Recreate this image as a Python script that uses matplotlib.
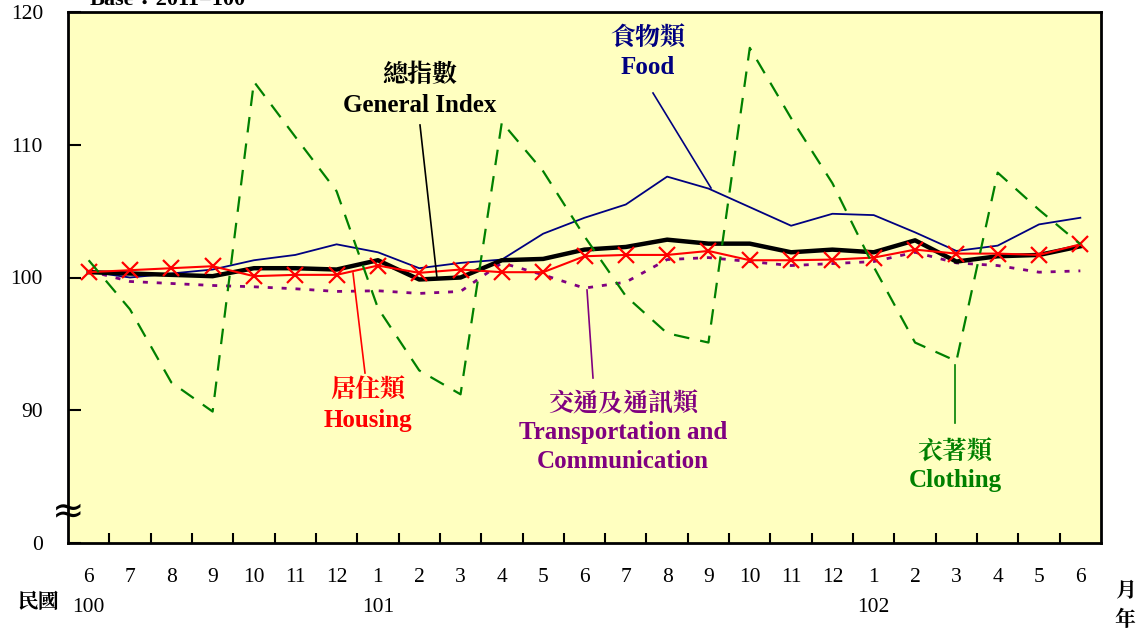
import matplotlib
matplotlib.use("Agg")
import matplotlib.pyplot as plt
import matplotlib.transforms as mtransforms

months = ["6", "7", "8", "9", "10", "11", "12", "1", "2", "3", "4", "5",
          "6", "7", "8", "9", "10", "11", "12", "1", "2", "3", "4", "5", "6"]
years = {0: "100", 7: "101", 19: "102"}

general = [100.4, 100.3, 100.2, 100.1, 100.7, 100.7, 100.6, 101.3, 99.85, 100.0,
           101.3, 101.4, 102.1, 102.3, 102.85, 102.55, 102.55, 101.9, 102.1, 101.9,
           102.8, 101.2, 101.6, 101.7, 102.35]
food = [100.45, 100.0, 100.3, 100.6, 101.3, 101.7, 102.5, 101.9, 100.7, 101.1,
        101.35, 103.3, 104.5, 105.5, 107.6, 106.7, 105.3, 103.9, 104.8, 104.7,
        103.4, 102.0, 102.4, 104.0, 104.5]
housing = [100.4, 100.55, 100.7, 100.85, 100.1, 100.2, 100.2, 100.9, 100.35, 100.6,
           100.4, 100.4, 101.6, 101.7, 101.7, 102.0, 101.3, 101.3, 101.35, 101.5,
           102.1, 101.8, 101.8, 101.7, 102.5]
transport = [100.5, 99.7, 99.55, 99.4, 99.3, 99.15, 98.95, 99.0, 98.8, 98.95,
             101.1, 100.2, 99.2, 99.65, 101.35, 101.5, 101.2, 100.9, 101.05, 101.2,
             101.9, 101.1, 100.9, 100.4, 100.5]
clothing = [101.3, 97.6, 92.1, 89.9, 114.75, 110.6, 106.5, 97.7, 93.0, 91.2,
            111.7, 108.0, 103.1, 98.6, 95.8, 95.1, 117.3, 112.0, 107.1, 100.8,
            95.1, 93.7, 107.9, 105.1, 102.5]

ytick_vals = [80, 90, 100, 110, 120]
ytick_labels = ["0", "90", "100", "110", "120"]

SERIF = ["Liberation Serif", "Noto Sans CJK TC"]
CJK = ["Noto Serif CJK TC", "Noto Sans CJK TC", "Liberation Serif"]

fig = plt.figure(figsize=(11.38, 6.31), dpi=100)
ax = fig.add_axes([68 / 1138, 1 - 543 / 631, (1101 - 68) / 1138, (543 - 12) / 631])
ax.set_facecolor("#FFFFC0")

x = list(range(len(months)))
ax.plot(x, transport, color="#800080", lw=2.0, ls=(0, (1.8, 3.2)), zorder=2)
ax.plot(x, food, color="#000080", lw=1.3, zorder=3)
ax.plot(x, general, color="black", lw=3.2, zorder=4)
ax.plot(x, housing, color="#FF0000", lw=1.5, marker="x", ms=11, mew=1.6, zorder=5)
ax.plot(x, clothing, color="#008000", lw=1.6, ls=(0, (7, 5)), zorder=6)

ax.set_xlim(-0.5, len(months) - 0.5)
ax.set_ylim(80, 120)
ax.set_yticks(ytick_vals)
ax.set_yticklabels(ytick_labels, family=SERIF, fontsize=15.5)
ax.set_xticks([i + 0.5 for i in range(len(months) - 1)])
ax.set_xticklabels([])
ax.tick_params(axis="x", direction="in", length=7, width=1.5)
ax.tick_params(axis="y", direction="in", length=9, width=1.5, pad=18)
for s in ax.spines.values():
    s.set_linewidth(2)

trans = mtransforms.blended_transform_factory(ax.transData, fig.transFigure)
for i, m in enumerate(months):
    fig.text(i, 1 - 578 / 631, m, transform=trans, ha="center", va="center",
             family=SERIF, fontsize=15.5)
for i, yv in years.items():
    fig.text(i, 1 - 608 / 631, yv, transform=trans, ha="center", va="center",
             family=SERIF, fontsize=15.5)

fig.text(38 / 1138, 1 - 602 / 631, "民國", ha="center", va="center",
         family=CJK, fontsize=15, fontweight="bold")
fig.text(1125 / 1138, 1 - 590 / 631, "月", ha="center", va="center",
         family=CJK, fontsize=15, fontweight="bold")
fig.text(1125 / 1138, 1 - 620 / 631, "年", ha="center", va="center",
         family=CJK, fontsize=15, fontweight="bold")
fig.text(90 / 1138, 1 - 5 / 631, "Base：2011=100", ha="left", va="baseline",
         family=SERIF, fontsize=16, fontweight="bold")

# axis break symbol
ax.text(-0.5, 82.35, "≈", ha="center", va="center", fontsize=28,
        family=["DejaVu Sans"], clip_on=False, zorder=10)

def px(xp, yp):
    return (xp / 1138, 1 - yp / 631)

def label(lines, color, xc, ys, sizes):
    for (t, fam), yp, sz in zip(lines, ys, sizes):
        fig.text(*px(xc, yp), t, ha="center", va="center", color=color,
                 family=fam, fontsize=sz, fontweight="bold")

def leader(p1, p2, color, lw=1.2):
    fig.add_artist(plt.Line2D([p1[0] / 1138, p2[0] / 1138],
                              [1 - p1[1] / 631, 1 - p2[1] / 631],
                              transform=fig.transFigure, color=color, lw=lw))

label([("總指數", CJK), ("General Index", SERIF)], "black", 420, [75, 105], [18, 18])
leader((420, 125), (437, 278), "black")

label([("食物類", CJK), ("Food", SERIF)], "#000080", 648, [38, 68], [18, 18])
leader((653, 93), (711, 188), "#000080")

label([("居住類", CJK), ("Housing", SERIF)], "#FF0000", 368, [390, 421], [18, 18])
leader((365, 373), (353, 273), "#FF0000")

label([("交通及通訊類", CJK), ("Transportation and", SERIF), ("Communication", SERIF)],
      "#800080", 623, [404, 433, 462], [18, 18, 18])
leader((593, 378), (587, 290), "#800080")

label([("衣著類", CJK), ("Clothing", SERIF)], "#008000", 955, [452, 481], [18, 18])
leader((955, 423), (955, 365), "#008000")

fig.savefig("out.png", dpi=100, facecolor="white")
